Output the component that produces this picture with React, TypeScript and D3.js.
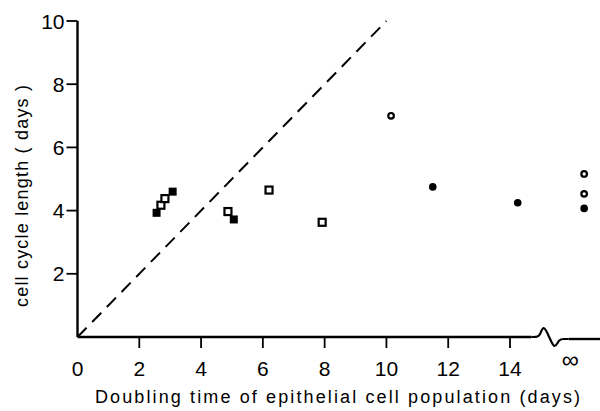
import React from "react";
import * as d3 from "d3";

const xTicks = [0, 2, 4, 6, 8, 10, 12, 14];
const yTicks = [2, 4, 6, 8, 10];

// data: doubling time (days), Infinity = infinite doubling time
const filledSquareX = [2.56, 3.08, 5.06];
const filledSquareY = [3.93, 4.6, 3.72];
const openSquareX = [2.7, 2.83, 4.87, 6.2, 7.92];
const openSquareY = [4.17, 4.38, 3.97, 4.65, 3.63];
const openCircleX = [10.15, Infinity, Infinity];
const openCircleY = [7.0, 5.16, 4.53];
const filledCircleX = [11.5, 14.25, Infinity];
const filledCircleY = [4.75, 4.25, 4.07];
const diagonal = [0, 10];

const W = 600;
const H = 411;
const INF_POINT = 16.4;
const INF_LABEL = 15.95;

export default function App() {
  const x = d3.scaleLinear().domain([0, 14]).range([77.5, 510]);
  const y = d3.scaleLinear().domain([0, 10]).range([337, 21]);
  const px = (v: number) => (isFinite(v) ? x(v) : x(INF_POINT));
  const y0 = y(0);
  const x0 = x(0);

  const wig = d3
    .line<[number, number]>()
    .x((d) => x(d[0]))
    .y((d) => y0 + d[1])
    .curve(d3.curveBasis)([
    [14.7, 0],
    [14.85, 0],
    [14.97, -1],
    [15.08, -13],
    [15.27, 0],
    [15.45, 13],
    [15.58, 2],
    [15.75, 2],
    [15.9, 2],
  ]);

  const font = "'Liberation Sans', Arial, sans-serif";

  return (
    <svg
      width={W}
      height={H}
      style={{ position: "absolute", left: 0, top: 0, background: "#fff" }}
    >
      {/* y axis */}
      <line x1={x0} x2={x0} y1={y(10)} y2={y0} stroke="#000" strokeWidth={2.4} />
      {yTicks.map((t) => (
        <g key={t}>
          <line x1={x0 - 11} x2={x0} y1={y(t)} y2={y(t)} stroke="#000" strokeWidth={1.8} />
          <text
            x={x0 - 13}
            y={y(t)}
            dy="0.36em"
            textAnchor="end"
            fontFamily={font}
            fontSize={21}
          >
            {t}
          </text>
        </g>
      ))}
      {/* x axis */}
      <line x1={x0} x2={x(14.7)} y1={y0} y2={y0} stroke="#000" strokeWidth={2.4} />
      <path d={wig || ""} fill="none" stroke="#000" strokeWidth={2.2} />
      <line x1={x(15.9)} x2={W} y1={y0 + 2} y2={y0 + 2} stroke="#000" strokeWidth={2.4} />
      {xTicks.map((t) => (
        <g key={t}>
          {t > 0 && (
            <line x1={x(t)} x2={x(t)} y1={y0} y2={y0 + 11} stroke="#000" strokeWidth={1.8} />
          )}
          <text x={x(t)} y={376} textAnchor="middle" fontFamily={font} fontSize={21}>
            {t}
          </text>
        </g>
      ))}
      <text x={x(INF_LABEL)} y={368} textAnchor="middle" fontFamily={font} fontSize={24}>
        ∞
      </text>
      {/* axis titles */}
      <text
        x={95}
        y={403}
        fontFamily={font}
        fontSize={18}
        textLength={485}
        lengthAdjust="spacing"
      >
        Doubling time of epithelial cell population  (days)
      </text>
      <text
        transform={`translate(28,${196}) rotate(-90)`}
        textAnchor="middle"
        fontFamily={font}
        fontSize={18}
        textLength={222}
        lengthAdjust="spacing"
      >
        cell cycle length ( days )
      </text>
      {/* diagonal dashed line */}
      <line
        x1={x(diagonal[0])}
        y1={y(diagonal[0])}
        x2={x(diagonal[1])}
        y2={y(diagonal[1])}
        stroke="#000"
        strokeWidth={2}
        strokeDasharray="13,8"
      />
      {/* points */}
      {openSquareX.map((v, i) => (
        <rect
          key={"os" + i}
          x={px(v) - 3.5}
          y={y(openSquareY[i]) - 3.5}
          width={7}
          height={7}
          fill="#fff"
          stroke="#000"
          strokeWidth={2.2}
        />
      ))}
      {filledSquareX.map((v, i) => (
        <rect
          key={"fs" + i}
          x={px(v) - 4}
          y={y(filledSquareY[i]) - 4}
          width={8}
          height={8}
          fill="#000"
        />
      ))}
      {openCircleX.map((v, i) => (
        <circle
          key={"oc" + i}
          cx={px(v)}
          cy={y(openCircleY[i])}
          r={2.8}
          fill="#fff"
          stroke="#000"
          strokeWidth={2.2}
        />
      ))}
      {filledCircleX.map((v, i) => (
        <circle key={"fc" + i} cx={px(v)} cy={y(filledCircleY[i])} r={3.8} fill="#000" />
      ))}
    </svg>
  );
}
